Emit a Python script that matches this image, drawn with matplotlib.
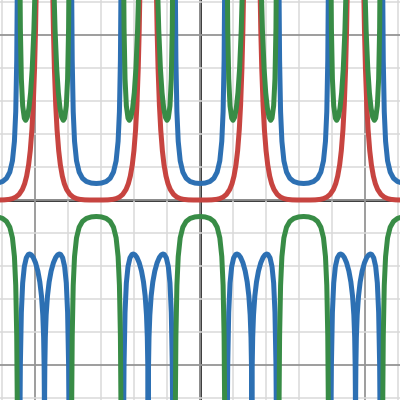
import numpy as np
import matplotlib
matplotlib.use("Agg")
import matplotlib.pyplot as plt

# one half period (x from 0 to pi/2); curves are even and repeat every pi
red_x = [0, 0.2, 0.35, 0.5, 0.6, 0.7, 0.8, 0.9, 0.97, 1.03, 1.09, 1.14, 1.19, 1.23, 1.27, 1.3, 1.33, 1.36]
red_y = [0.000, 0.000, 0.004, 0.019, 0.042, 0.087, 0.169, 0.319, 0.494, 0.723, 1.066, 1.494,
         2.130, 2.880, 3.979, 5.169, 6.858, 9.356]

# inside |x| < pi/4
mid_x = [0, 0.15, 0.3, 0.42, 0.52, 0.6, 0.66, 0.7, 0.73, 0.75, 0.765]
blue_mid_y = [0.500, 0.512, 0.560, 0.658, 0.846, 1.188, 1.779, 2.674, 4.228, 6.756, 11.933]
green_mid_y = [-0.500, -0.512, -0.558, -0.649, -0.824, -1.146, -1.714, -2.587, -4.122, -6.634, -11.799]

# between pi/4 and pi/2
blue_side_x = [0.805, 0.82, 0.84, 0.87, 0.91, 0.96, 1.02, 1.08, 1.12, 1.17, 1.23, 1.3, 1.37,
               1.43, 1.48, 1.52, 1.545, 1.56, 1.566, 1.569, 1.5705]
blue_side_y = [-13.124, -7.613, -4.992, -3.408, -2.515, -2.017, -1.753, -1.652, -1.637, -1.660,
               -1.740, -1.902, -2.155, -2.484, -2.909, -3.483, -4.158, -5.029, -5.840, -6.822, -8.624]
green_side_x = [0.805, 0.82, 0.84, 0.87, 0.91, 0.96, 1.0, 1.05, 1.1, 1.15, 1.2, 1.25, 1.29, 1.32]
green_side_y = [13.298, 7.805, 5.210, 3.672, 2.855, 2.481, 2.414, 2.510, 2.780, 3.247, 3.986,
                5.153, 6.601, 8.188]

period = np.pi
lim = 6.06


def mirror(xs, ys):
    xs, ys = np.array(xs), np.array(ys)
    return np.concatenate([-xs[:0:-1], xs]), np.concatenate([ys[:0:-1], ys])


fig = plt.figure(figsize=(4, 4), dpi=100)
ax = fig.add_axes([0, 0, 1, 1])

ax.set_xticks(range(-5, 6, 5))
ax.set_yticks(range(-5, 6, 5))
ax.set_xticks(range(-6, 7), minor=True)
ax.set_yticks(range(-6, 7), minor=True)
ax.grid(which="minor", color="#dadada", lw=1.1, zorder=0)
ax.grid(which="major", color="#959595", lw=1.3, zorder=0.5)
ax.tick_params(which="both", length=0, labelbottom=False, labelleft=False)
for s in ax.spines.values():
    s.set_visible(False)
ax.axhline(0, color="black", lw=1.8, zorder=1)
ax.axvline(0, color="black", lw=1.8, zorder=1)

rx, ry = mirror(red_x, red_y)
bx, by = mirror(mid_x, blue_mid_y)
gx, gy = mirror(mid_x, green_mid_y)
bsx = np.array(blue_side_x)
bsy = np.array(blue_side_y)

for k in range(-2, 3):
    c = k * period
    ax.plot(c + rx, ry, color="#c74440", lw=3.6, zorder=2, solid_capstyle="round")
for k in range(-2, 3):
    c = k * period
    ax.plot(c + bx, by, color="#2d70b3", lw=3.6, zorder=3)
    arch_x = np.concatenate([c + bsx, c + period - bsx[::-1]])
    arch_y = np.concatenate([bsy, bsy[::-1]])
    ax.plot(arch_x, arch_y, color="#2d70b3", lw=3.6, zorder=3)
for k in range(-2, 3):
    c = k * period
    ax.plot(c + gx, gy, color="#388c46", lw=3.6, zorder=4)
    ax.plot(c + np.array(green_side_x), green_side_y, color="#388c46", lw=3.6, zorder=4)
    ax.plot(c + period - np.array(green_side_x), green_side_y, color="#388c46", lw=3.6, zorder=4)

ax.set_xlim(-lim, lim)
ax.set_ylim(-lim, lim)
fig.savefig("out.png", dpi=100)
